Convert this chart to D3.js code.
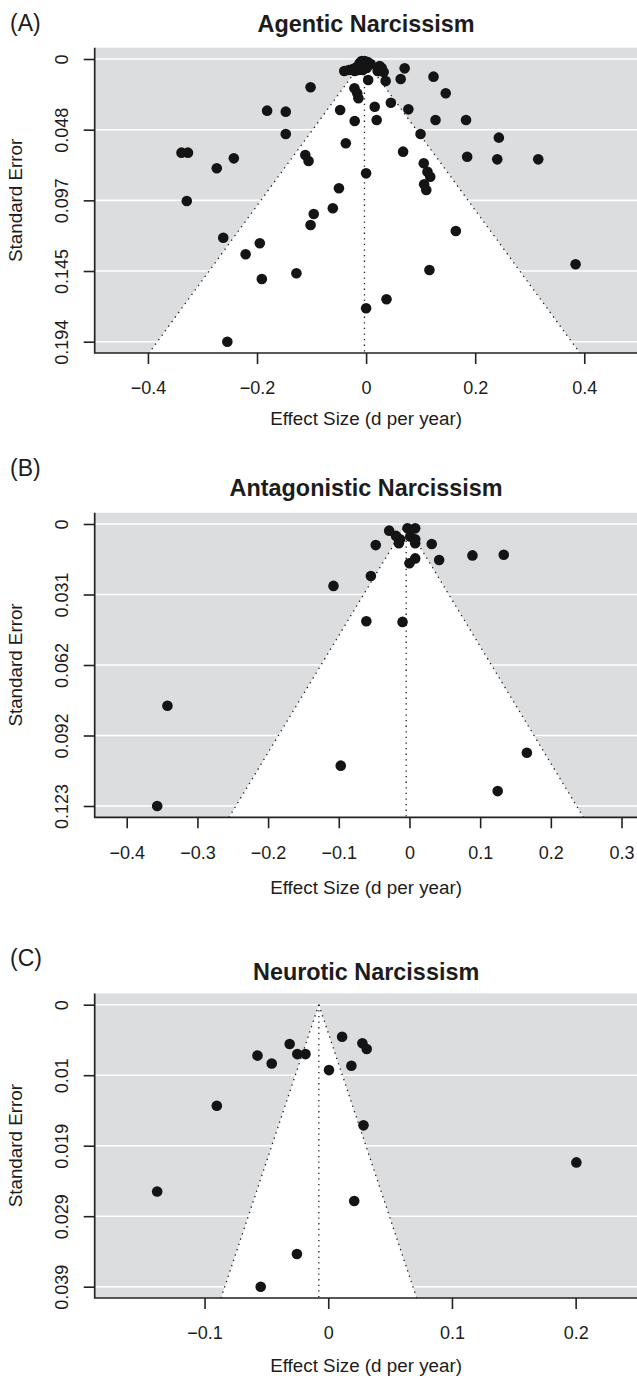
<!DOCTYPE html>
<html>
<head>
<meta charset="utf-8">
<script src="https://cdn.jsdelivr.net/npm/d3@7"></script>
<style>
  body { margin: 0; background: #fff; }
  text { font-family: "Liberation Sans", Arial, Helvetica, sans-serif; fill: #1c1c1c; }
</style>
</head>
<body>
<div id="chart"></div>
<script>
// ---- data ----
const titles = ["Agentic Narcissism", "Antagonistic Narcissism", "Neurotic Narcissism"];
const panelTags = ["(A)", "(B)", "(C)"];
const xTitle = "Effect Size (d per year)";
const yTitle = "Standard Error";

// (A) agentic
const agenticEffect = [-0.0401, -0.0319, -0.0245, -0.0172, -0.0117, -0.0081, -0.0026, 0.0029, 0.0084, -0.0136,
  -0.0062, 0.0011, -0.0209, 0.0212, 0.0286, 0.0322, 0.0249, 0.0707, 0.1236, 0.0038,
  0.0359, 0.0634, -0.1018, 0.1460, -0.0214, -0.0163, -0.0141, -0.1815, -0.1473, -0.0476,
  0.0158, 0.0454, 0.0775, -0.0209, 0.0194, 0.1273, 0.1832, -0.1473, 0.0998, 0.2434,
  -0.0372, -0.3385, -0.3266, 0.0678, -0.2425, -0.1115, -0.1055, 0.1853, 0.2405, 0.3156,
  -0.2738, 0.1057, 0.1125, 0.1176, 0.0000, -0.0498, 0.1064, 0.1103, -0.3288, -0.0610,
  -0.0960, -0.1018, 0.1645, -0.2619, -0.1949, -0.2209, -0.1278, -0.1912, 0.1161, 0.3841,
  0.0374, 0.0000, -0.2544];
const agenticSE = [0.0082, 0.0075, 0.0069, 0.0055, 0.0027, 0.0014, 0.0014, 0.0021, 0.0034, 0.0075,
  0.0075, 0.0062, 0.0082, 0.0082, 0.0062, 0.0089, 0.0048, 0.0064, 0.0121, 0.0144,
  0.0151, 0.0137, 0.0194, 0.0235, 0.0201, 0.0235, 0.0269, 0.0354, 0.0361, 0.0350,
  0.0327, 0.0300, 0.0345, 0.0425, 0.0418, 0.0418, 0.0418, 0.0514, 0.0514, 0.0539,
  0.0578, 0.0642, 0.0642, 0.0635, 0.0681, 0.0658, 0.0699, 0.0670, 0.0688, 0.0688,
  0.0749, 0.0715, 0.0773, 0.0807, 0.0784, 0.0886, 0.0859, 0.0898, 0.0973, 0.1023,
  0.1063, 0.1138, 0.1179, 0.1225, 0.1263, 0.1339, 0.1469, 0.1508, 0.1446, 0.1407,
  0.1647, 0.1709, 0.1938];
const agenticXTicks = [-0.4, -0.2, 0, 0.2, 0.4];
const agenticXLabels = ["\u22120.4", "\u22120.2", "0", "0.2", "0.4"];
const agenticSELabels = ["0", "0.048", "0.097", "0.145", "0.194"];
const agenticSEMax = 0.1938;
const agenticEstimate = -0.003;
const agenticXLim = [-0.4976, 0.4976];

// (B) antagonistic
const antagEffect = [-0.0287, -0.0190, -0.0132, -0.0028, 0.0081, 0.0011, 0.0081, -0.0150, 0.0081, -0.0477,
  0.0315, 0.0891, 0.1334, 0.0081, 0.0000, 0.0420, -0.0546, -0.1075, -0.0610, -0.0098,
  -0.3424, -0.0972, 0.1661, 0.1248, -0.3569];
const antagSE = [0.0029, 0.0052, 0.0067, 0.0019, 0.0019, 0.0055, 0.0067, 0.0084, 0.0084, 0.0092,
  0.0087, 0.0137, 0.0134, 0.0150, 0.0171, 0.0157, 0.0227, 0.0270, 0.0424, 0.0427,
  0.0793, 0.1054, 0.0998, 0.1165, 0.1230];
const antagXTicks = [-0.4, -0.3, -0.2, -0.1, 0, 0.1, 0.2, 0.3];
const antagXLabels = ["\u22120.4", "\u22120.3", "\u22120.2", "\u22120.1", "0", "0.1", "0.2", "0.3"];
const antagSELabels = ["0", "0.031", "0.062", "0.092", "0.123"];
const antagSEMax = 0.123;
const antagEstimate = -0.0046;
const antagXLim = [-0.4453, 0.3226];

// (C) neurotic
const neuroEffect = [0.0112, 0.0276, 0.0311, -0.0312, -0.0572, -0.0457, -0.0250, -0.0184, 0.0187, 0.0006,
  -0.0901, 0.0285, 0.2006, -0.1383, 0.0210, -0.0253, -0.0546];
const neuroSE = [0.0044, 0.0053, 0.0061, 0.0054, 0.0070, 0.0081, 0.0068, 0.0068, 0.0084, 0.0090,
  0.0139, 0.0166, 0.0217, 0.0257, 0.0270, 0.0343, 0.0388];
const neuroXTicks = [-0.1, 0, 0.1, 0.2];
const neuroXLabels = ["\u22120.1", "0", "0.1", "0.2"];
const neuroSELabels = ["0", "0.01", "0.019", "0.029", "0.039"];
const neuroSEMax = 0.0388;
const neuroEstimate = -0.0076;
const neuroXLim = [-0.1888, 0.25];

// ---- layout ----
const W = 637, H = 1376;
const plotLeft = 94.7, plotRight = 637.5;

const svg = d3.select("#chart").append("svg")
  .attr("width", W).attr("height", H);

const panels = [
  { eff: agenticEffect, se: agenticSE, xTicks: agenticXTicks, xLabels: agenticXLabels,
    seLabels: agenticSELabels, seMax: agenticSEMax, est: agenticEstimate, xLim: agenticXLim,
    y0: 59, span: 282.7, tagY: 30.7, titleY: 31.7, tickY: 388, xTitleY: 418.3 },
  { eff: antagEffect, se: antagSE, xTicks: antagXTicks, xLabels: antagXLabels,
    seLabels: antagSELabels, seMax: antagSEMax, est: antagEstimate, xLim: antagXLim,
    y0: 524, span: 282, tagY: 476, titleY: 496, tickY: 852.7, xTitleY: 887.7 },
  { eff: neuroEffect, se: neuroSE, xTicks: neuroXTicks, xLabels: neuroXLabels,
    seLabels: neuroSELabels, seMax: neuroSEMax, est: neuroEstimate, xLim: neuroXLim,
    y0: 1004.7, span: 282, tagY: 966, titleY: 980, tickY: 1333, xTitleY: 1365 }
];

panels.forEach((p, k) => drawPanel(p, k));

function drawPanel(p, k) {
  const x = d3.scaleLinear().domain(p.xLim).range([plotLeft, plotRight]);
  const y = d3.scaleLinear().domain([0, p.seMax]).range([p.y0, p.y0 + p.span]);
  const seTop = -0.04 * p.seMax, seBot = 1.04 * p.seMax;
  const g = svg.append("g");

  // grey background
  g.append("rect")
    .attr("x", plotLeft).attr("y", y(seTop))
    .attr("width", plotRight - plotLeft).attr("height", y(seBot) - y(seTop))
    .attr("fill", "#dcdddf");

  const seTicks = p.seLabels.map((d, i) => p.seMax * i / 4);

  // white grid lines
  g.selectAll("line.grid").data(seTicks).join("line")
    .attr("class", "grid")
    .attr("x1", plotLeft).attr("x2", plotRight)
    .attr("y1", d => y(d)).attr("y2", d => y(d))
    .attr("stroke", "#fff").attr("stroke-width", 1.6);

  // funnel
  const half = 1.96 * seBot;
  const funnel = [[p.est, 0], [p.est - half, seBot], [p.est + half, seBot]];
  const line = d3.line().x(d => x(d[0])).y(d => y(d[1]));
  g.append("path").attr("d", line(funnel) + "Z").attr("fill", "#fff");

  const dotted = [
    [[p.est, 0], [p.est - half, seBot]],
    [[p.est, 0], [p.est + half, seBot]],
    [[p.est, 0], [p.est, seBot]]
  ];
  g.selectAll("path.dot").data(dotted).join("path")
    .attr("class", "dot")
    .attr("d", line)
    .attr("fill", "none")
    .attr("stroke", "#1c1c1c")
    .attr("stroke-width", 1.3)
    .attr("stroke-dasharray", "1.3,4.3");

  // points
  g.selectAll("circle").data(p.eff).join("circle")
    .attr("cx", d => x(d))
    .attr("cy", (d, i) => y(p.se[i]))
    .attr("r", 5.3)
    .attr("fill", "#141414");

  // axes
  const xAxis = g.append("g")
    .attr("transform", "translate(0," + y(seBot) + ")")
    .call(d3.axisBottom(x).tickValues(p.xTicks)
      .tickFormat((d, i) => p.xLabels[i]).tickSize(11).tickSizeOuter(0));
  xAxis.select(".domain").remove();
  xAxis.selectAll(".tick line").attr("stroke", "#222").attr("stroke-width", 1.6);
  xAxis.selectAll(".tick text")
    .attr("y", p.tickY - y(seBot)).attr("dy", "0.35em")
    .style("font-size", "18px")
    .attr("fill", "#1c1c1c");

  const yAxis = g.append("g")
    .attr("transform", "translate(" + plotLeft + ",0)")
    .call(d3.axisLeft(y).tickValues(seTicks)
      .tickFormat((d, i) => p.seLabels[i]).tickSize(11).tickSizeOuter(0));
  yAxis.select(".domain").remove();
  yAxis.selectAll(".tick line").attr("stroke", "#222").attr("stroke-width", 1.6);
  yAxis.selectAll(".tick text")
    .attr("x", null).attr("dy", "0.35em")
    .attr("text-anchor", "middle")
    .attr("transform", "translate(-33,0) rotate(-90)")
    .style("font-size", "18px")
    .attr("fill", "#1c1c1c");

  // L-shaped box
  g.append("path")
    .attr("d", "M" + plotLeft + "," + y(seTop) + "V" + y(seBot) + "H" + plotRight)
    .attr("fill", "none").attr("stroke", "#222").attr("stroke-width", 1.7);

  // labels
  g.append("text")
    .attr("x", 10).attr("y", p.tagY)
    .style("font-size", "23px")
    .text(panelTags[k]);

  g.append("text")
    .attr("x", (plotLeft + plotRight) / 2).attr("y", p.titleY)
    .attr("text-anchor", "middle")
    .style("font-size", "23.4px").style("font-weight", "bold")
    .text(titles[k]);

  g.append("text")
    .attr("x", (plotLeft + plotRight) / 2).attr("y", p.xTitleY)
    .attr("dy", "0.35em")
    .attr("text-anchor", "middle")
    .style("font-size", "18.8px")
    .text(xTitle);

  g.append("text")
    .attr("transform", "translate(15.5," + y(p.seMax / 2) + ") rotate(-90)")
    .attr("dy", "0.35em")
    .attr("text-anchor", "middle")
    .style("font-size", "18.8px")
    .text(yTitle);
}
</script>
</body>
</html>
